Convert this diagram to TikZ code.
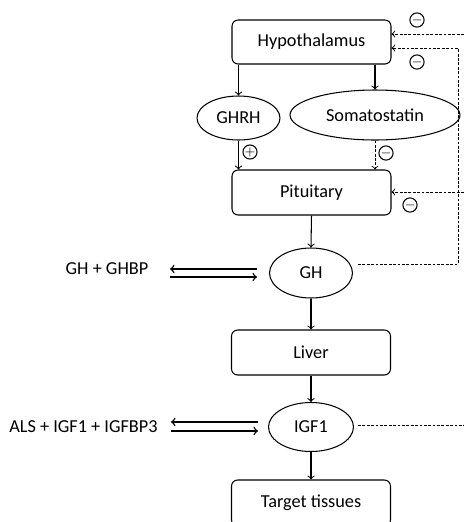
\documentclass[tikz,border=0pt]{standalone}
\usepackage{fontspec}
\setmainfont{Carlito}
\usetikzlibrary{calc,shapes.geometric}
\tikzset{
	box/.style={draw, rounded corners=3.5pt, minimum width=3.18cm, minimum height=0.88cm, inner sep=0pt},
	oval/.style={draw, ellipse, inner sep=0pt},
	fb/.style={dash pattern=on 1.6pt off 0.9pt, line width=0.55pt},
	sgn/.style={draw, circle, minimum size=0.22cm, inner sep=0pt, font=\scriptsize},
}
\begin{document}
\begin{tikzpicture}[x=0.02cm, y=-0.02cm, line width=0.6pt, font=\fontsize{10.4}{12}\selectfont]
					\useasboundingbox (0,0) rectangle (464,522);
					\clip (0,0) rectangle (464,522);
					% main chain
					\node[box] (hypo) at (311.5,42) {Hypothalamus};
					\node[oval, minimum width=1.66cm, minimum height=0.88cm] (ghrh) at (238.5,118) {GHRH};
					\node[oval, minimum width=3.4cm, minimum height=1cm] (soma) at (375,115) {Somatostatin};
					\node[box, minimum height=0.9cm] (pit) at (311.5,192.5) {Pituitary};
					\node[oval, minimum width=1.66cm, minimum height=1cm] (gh) at (311,273) {GH};
					\node[box, minimum height=0.9cm] (liver) at (311,352.5) {Liver};
					\node[oval, minimum width=1.7cm, minimum height=0.98cm] (igf) at (311,427) {IGF1};
					\node[box, minimum height=0.92cm] (target) at (311,503) {Target tissues};
					\node (ghbp) at (107,269) {GH + GHBP};
					\node (als) at (83.5,427) {ALS + IGF1 + IGFBP3};
					\draw[->] (hypo.south -| ghrh) -- (ghrh.north);
					\draw[->] (hypo.south -| soma) -- (soma.north);
					\draw[->] (ghrh.south) -- (ghrh.south |- pit.north);
					\draw[->,fb] (soma.south) -- (soma.south |- pit.north);
					\draw[->] (pit.south) -- (gh.north);
					\draw[->] (gh.south) -- (liver.north);
					\draw[->] (liver.south) -- (igf.north);
					\draw[->] (igf.south) -- (target.north);
					% binding equilibria
					\draw[->,line width=0.8pt] ($(gh.west)+(-12,-4)$) -- ++(-87,0);
					\draw[->,line width=0.8pt] ($(gh.west)+(-99,4)$) -- ++(87,0);
					\draw[->,line width=0.8pt] ($(igf.west)+(-10,-5)$) -- ++(-87,0);
					\draw[->,line width=0.8pt] ($(igf.west)+(-97,4)$) -- ++(87,0);
					% feedback
					\coordinate (inTop) at (464,34);
					\coordinate (inPit) at (464,192);
					\coordinate (outIGF) at (464,425);
					\coordinate (rail) at (458,48);
					\draw[->,fb] (inTop) -- (inTop -| hypo.east);
					\draw[->,fb] ($(gh.east)+(5,-9)$) -| (rail) -- (rail -| hypo.east);
					\draw[->,fb] (inPit) -- (inPit -| pit.east);
					\draw[fb] ($(igf.east)+(4,-2)$) -- (outIGF);
					% signs
					\node[sgn] (plus) at (250,152) {$+$};
					\node[sgn] (mSoma) at (386,153) {$-$};
					\node[sgn] (mTop) at (417,20) {$-$};
					\node[sgn] (mGH) at (417,62) {$-$};
					\node[sgn] (mPit) at (410,205) {$-$};
				\end{tikzpicture}
\end{document}
